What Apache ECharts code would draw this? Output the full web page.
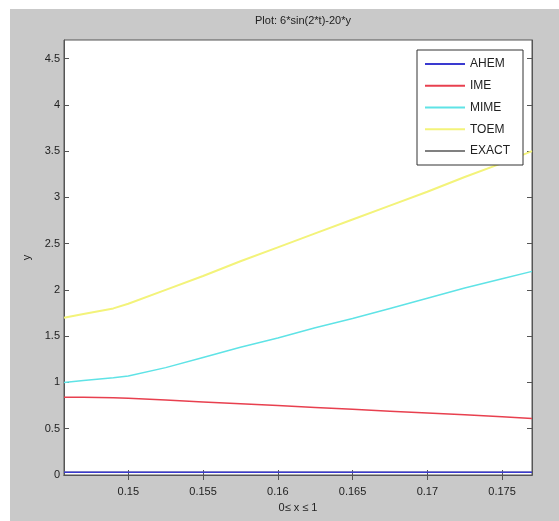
<!DOCTYPE html>
<html>
<head>
<meta charset="utf-8">
<script src="https://cdn.jsdelivr.net/npm/echarts@6/dist/echarts.min.js"></script>
<style>
  html, body { margin: 0; padding: 0; background: #fff; }
  #main { width: 559px; height: 521px; }
</style>
</head>
<body>
<div id="main"></div>
<script>
var xs = [0.1457, 0.147, 0.149, 0.150, 0.1525, 0.155, 0.1575, 0.160, 0.1625, 0.165, 0.1675, 0.170, 0.1725, 0.175, 0.177];

var ahem  = [0.03, 0.03, 0.03, 0.03, 0.03, 0.03, 0.03, 0.03, 0.03, 0.03, 0.03, 0.03, 0.03, 0.03, 0.03];
var ime   = [0.84, 0.84, 0.835, 0.83, 0.81, 0.79, 0.77, 0.75, 0.73, 0.71, 0.69, 0.67, 0.65, 0.63, 0.61];
var mime  = [1.00, 1.02, 1.05, 1.07, 1.16, 1.27, 1.38, 1.48, 1.59, 1.69, 1.80, 1.91, 2.02, 2.12, 2.20];
var toem  = [1.70, 1.74, 1.80, 1.85, 2.00, 2.15, 2.31, 2.46, 2.61, 2.76, 2.91, 3.06, 3.22, 3.37, 3.50];
var exact = [0.03, 0.03, 0.03, 0.03, 0.03, 0.03, 0.03, 0.03, 0.03, 0.03, 0.03, 0.03, 0.03, 0.03, 0.03];

var seriesNames = ["AHEM", "IME", "MIME", "TOEM", "EXACT"];

// tick marks
var xTicks = [0.15, 0.155, 0.16, 0.165, 0.17, 0.175];
var xTickLabels = ["0.15", "0.155", "0.16", "0.165", "0.17", "0.175"];
var yTicks = [0, 0.5, 1, 1.5, 2, 2.5, 3, 3.5, 4, 4.5];
var yTickLabels = ["0", "0.5", "1", "1.5", "2", "2.5", "3", "3.5", "4", "4.5"];

function pairs(ys) {
  return xs.map(function (x, i) { return [x, ys[i]]; });
}

var font = "'Liberation Sans', Arial, sans-serif";
var axisColor = "#555";

var myChart = echarts.init(document.getElementById("main"));

function lineSeries(name, ys, color, width, z) {
  return {
    name: name,
    type: "line",
    data: pairs(ys),
    showSymbol: false,
    symbol: "none",
    z: z,
    lineStyle: { color: color, width: width },
    itemStyle: { color: color }
  };
}

myChart.setOption({
  backgroundColor: "#fff",
  animation: false,
  graphic: [{
    type: "rect",
    z: -100,
    shape: { x: 10, y: 9, width: 549, height: 512 },
    style: { fill: "#c9c9c9" }
  }],
  title: {
    text: "Plot: 6*sin(2*t)-20*y",
    left: 298,
    textAlign: "center",
    top: 10,
    textStyle: { fontFamily: font, fontSize: 11, fontWeight: "normal", color: "#222" }
  },
  legend: {
    data: seriesNames,
    orient: "vertical",
    left: 417,
    top: 50,
    padding: [8, 13, 8, 8],
    itemWidth: 40,
    itemHeight: 14,
    itemGap: 9.75,
    icon: "path://M0,0L40,0L40,2L0,2Z",
    backgroundColor: "#fff",
    borderColor: "#333",
    borderWidth: 1,
    textStyle: { fontFamily: font, fontSize: 12, color: "#222" }
  },
  grid: {
    left: 64,
    right: 27,
    top: 40,
    bottom: 46,
    show: true,
    backgroundColor: "#fff",
    borderColor: axisColor,
    borderWidth: 1
  },
  xAxis: [{
    type: "value",
    min: 0.1457,
    max: 0.177,
    name: "0\u2264 x \u2264 1",
    nameLocation: "middle",
    nameGap: 27,
    nameTextStyle: { fontFamily: font, fontSize: 11, color: "#222" },
    splitLine: { show: false },
    axisLine: { lineStyle: { color: axisColor } },
    axisTick: { inside: true, length: 5, customValues: xTicks, lineStyle: { color: axisColor } },
    axisLabel: {
      customValues: xTicks,
      margin: 11,
      fontFamily: font, fontSize: 11, color: "#222",
      formatter: function (v) { return xTickLabels[xTicks.indexOf(v)]; }
    }
  }, {
    type: "value",
    position: "top",
    min: 0.1457,
    max: 0.177,
    splitLine: { show: false },
    axisLine: { lineStyle: { color: axisColor } },
    axisTick: { inside: true, length: 5, customValues: xTicks, lineStyle: { color: axisColor } },
    axisLabel: { show: false }
  }],
  yAxis: [{
    type: "value",
    min: 0,
    max: 4.7,
    name: "y",
    nameLocation: "middle",
    nameGap: 32,
    nameTextStyle: { fontFamily: font, fontSize: 11, color: "#222" },
    splitLine: { show: false },
    axisLine: { lineStyle: { color: axisColor } },
    axisTick: { inside: true, length: 5, customValues: yTicks, lineStyle: { color: axisColor } },
    axisLabel: {
      customValues: yTicks,
      margin: 4,
      fontFamily: font, fontSize: 11, color: "#222",
      formatter: function (v) { return yTickLabels[yTicks.indexOf(v)]; }
    }
  }, {
    type: "value",
    position: "right",
    min: 0,
    max: 4.7,
    splitLine: { show: false },
    axisLine: { lineStyle: { color: axisColor } },
    axisTick: { inside: true, length: 5, customValues: yTicks, lineStyle: { color: axisColor } },
    axisLabel: { show: false }
  }],
  series: [
    lineSeries("AHEM", ahem, "#3a3ad0", 1.5, 3),
    lineSeries("IME", ime, "#e8404f", 1.5, 2),
    lineSeries("MIME", mime, "#5fe3e6", 1.5, 2),
    lineSeries("TOEM", toem, "#f3f37a", 2, 2),
    lineSeries("EXACT", exact, "#808080", 1.5, 1)
  ]
});
</script>
</body>
</html>
